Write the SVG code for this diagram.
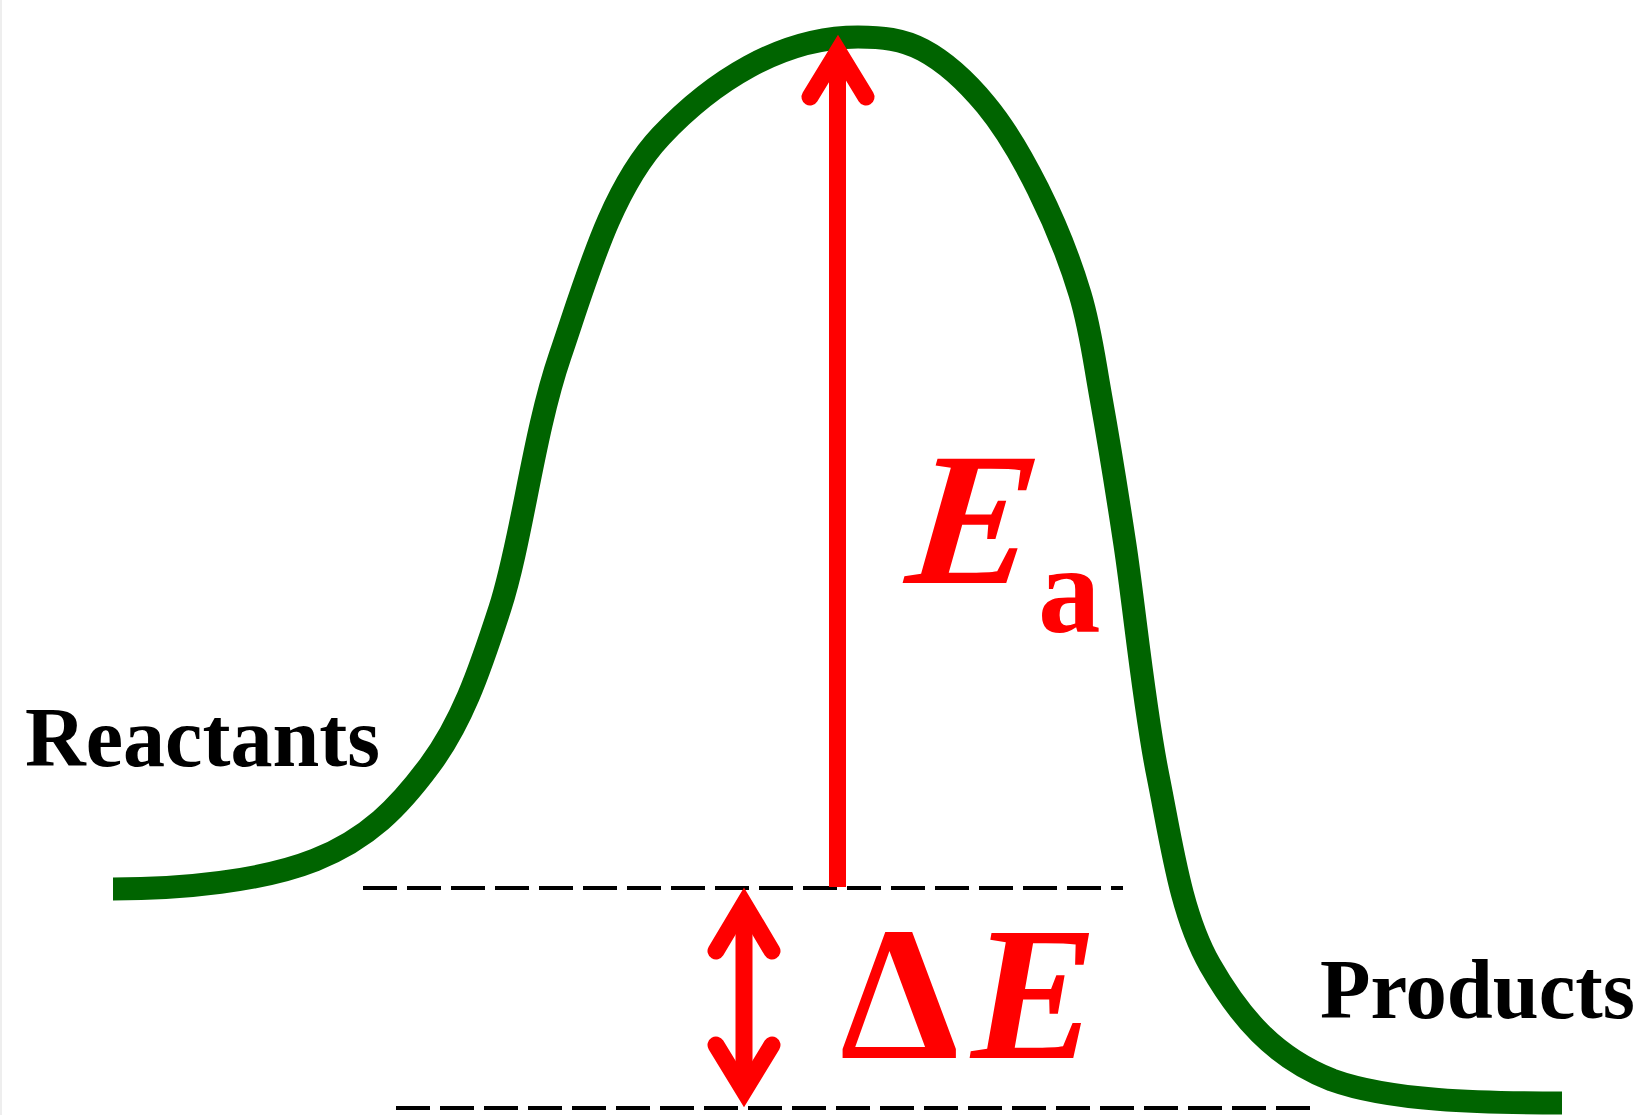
<svg xmlns="http://www.w3.org/2000/svg" width="1644" height="1115" viewBox="0 0 1644 1115">
<style>
.curve{fill:none;stroke:#006400;stroke-width:23;stroke-linecap:butt;stroke-linejoin:round}
.dash{stroke:#000;stroke-width:4;stroke-dasharray:34 10}
.red{fill:none;stroke:#ff0000;stroke-width:17}
.head{fill:none;stroke:#ff0000;stroke-width:17;stroke-linecap:round;stroke-linejoin:miter;stroke-miterlimit:10}
.lbl{font-family:"Liberation Serif","Times New Roman",serif;font-weight:bold;fill:#000}
.sym{font-family:"Liberation Serif","Times New Roman",serif;font-weight:bold;fill:#ff0000}
</style>
<rect x="0" y="0" width="1644" height="1115" fill="#ffffff"/>
<line x1="1" y1="0" x2="1" y2="1115" stroke="#eeeeee" stroke-width="2"/>
<g id="curve">
<path class="curve" d="M113,889 C183,889 262,881 315,860 C368,839 399,807 430,765 C461,723 478,676 500,608 C522,540 533,435 560,356 C587,277 611,189 661,136 C711,83 780,37 858,37 C882,37 902,39 923,50 C944.3,61.3 966.8,81.8 986,105 C1005.2,128.2 1022.3,157.5 1038,189 C1053.7,220.5 1069.5,259.2 1080,294 C1090.5,328.8 1093.5,356.2 1101,398 C1108.5,439.8 1115.5,482 1125,545 C1134.5,608 1143.8,706 1158,776 C1172,846 1181,914.3 1210,965 C1239,1015.7 1273.3,1057 1332,1080 C1390,1101 1480,1103 1562,1103"/>
</g>
<g id="levels">
<line class="dash" x1="363" y1="888" x2="1123" y2="888"/>
<line class="dash" x1="396" y1="1108" x2="1313" y2="1108"/>
</g>
<g id="connectors">
<g id="ea-arrow">
<line class="red" x1="837.5" y1="887" x2="837.5" y2="60"/>
<polyline class="head" points="810,97 838,51 866,97"/>
</g>
<g id="de-arrow">
<line class="red" x1="744" y1="910" x2="744" y2="1085"/>
<polyline class="head" points="716,951 744,904 772,951"/>
<polyline class="head" points="716,1045 744,1091 772,1045"/>
</g>
</g>
<g id="reactants"><text class="lbl" x="25" y="766" font-size="84" textLength="355" lengthAdjust="spacingAndGlyphs">Reactants</text></g>
<g id="products"><text class="lbl" x="1320" y="1018" font-size="84" textLength="315" lengthAdjust="spacingAndGlyphs">Products</text></g>
<g id="ea-label">
<text class="sym" transform="translate(904,583) skewX(-6)" x="0" y="0" font-size="190" font-style="italic">E</text>
<text class="sym" x="1038" y="632" font-size="125">a</text>
</g>
<g id="de-label">
<text class="sym" x="840" y="1058" font-size="190">Δ<tspan x="971" font-style="italic">E</tspan></text>
</g>
</svg>
